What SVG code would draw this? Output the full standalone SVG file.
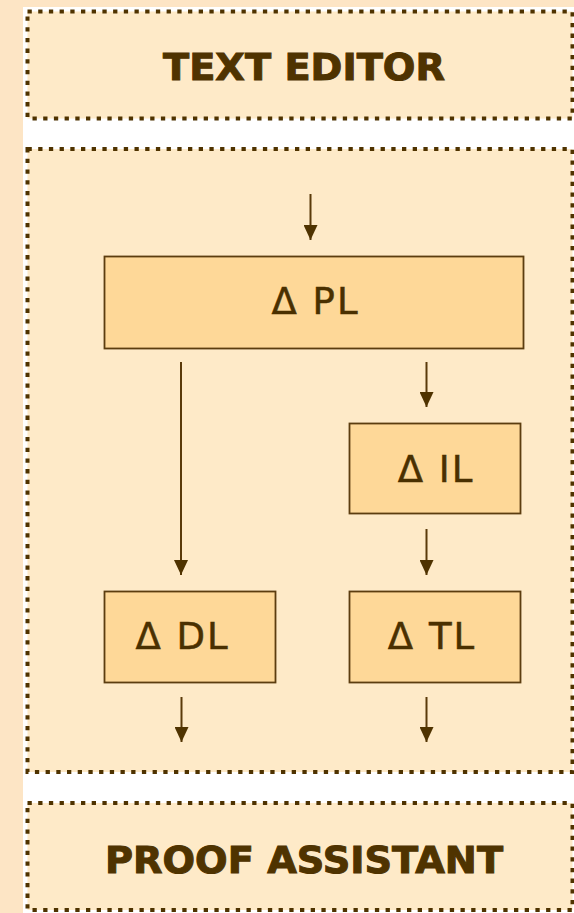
<svg xmlns="http://www.w3.org/2000/svg" width="574" height="913" viewBox="0 0 574 913">
<defs>
<style>
.panel{fill:#feeac8;stroke:#4f3300;stroke-width:4;stroke-dasharray:4.3 6.4}
.title{font-family:"DejaVu Sans",Verdana,sans-serif;font-weight:bold;font-size:37px;fill:#4f3300;stroke:#4f3300;stroke-width:1;text-anchor:middle}
.node{fill:#fed898;stroke:#5c3d0f;stroke-width:1.8}
.lbl{font-family:"DejaVu Sans",Verdana,sans-serif;font-size:37px;fill:#4a3000;stroke:#4a3000;stroke-width:0.5;letter-spacing:2px;text-anchor:middle}
.conn{stroke:#5a3a0a;stroke-width:2;fill:none}
</style>
<marker id="ah" viewBox="0 0 15 14" refX="15" refY="7" markerWidth="15" markerHeight="14" markerUnits="userSpaceOnUse" orient="auto">
<path d="M0,0 L15,7 L0,14 Z" fill="#4f3300"/>
</marker>
</defs>
<rect x="0" y="0" width="574" height="913" fill="#fde5c5"/>
<rect x="23" y="7" width="551" height="906" fill="#ffffff"/>
<g id="text-editor">
<rect class="panel" x="27.5" y="11.5" width="545" height="107"/>
<text class="title" x="304" y="79.5" textLength="282" lengthAdjust="spacingAndGlyphs">TEXT EDITOR</text>
</g>
<g id="main-panel">
<rect class="panel" x="27.5" y="149" width="545" height="623"/>
</g>
<g id="proof-assistant">
<rect class="panel" x="27.5" y="803" width="545" height="107"/>
<text class="title" x="304" y="872.5" textLength="398" lengthAdjust="spacingAndGlyphs">PROOF ASSISTANT</text>
</g>
<g id="pl">
<rect class="node" x="104.5" y="256.5" width="419" height="92"/>
<text class="lbl" x="315.5" y="314">Δ PL</text>
</g>
<g id="il">
<rect class="node" x="349.5" y="423.5" width="171" height="90"/>
<text class="lbl" x="436" y="481.5">Δ IL</text>
</g>
<g id="dl">
<rect class="node" x="104.5" y="591.5" width="171" height="91"/>
<text class="lbl" x="182.5" y="649">Δ DL</text>
</g>
<g id="tl">
<rect class="node" x="349.5" y="591.5" width="171" height="91"/>
<text class="lbl" x="432" y="649">Δ TL</text>
</g>
<g id="connectors">
<line class="conn" x1="310.5" y1="194" x2="310.5" y2="240" marker-end="url(#ah)"/>
<line class="conn" x1="426.5" y1="362" x2="426.5" y2="407" marker-end="url(#ah)"/>
<line class="conn" x1="181" y1="362" x2="181" y2="575" marker-end="url(#ah)"/>
<line class="conn" x1="426.5" y1="529" x2="426.5" y2="575" marker-end="url(#ah)"/>
<line class="conn" x1="181.5" y1="697" x2="181.5" y2="742" marker-end="url(#ah)"/>
<line class="conn" x1="426.5" y1="697" x2="426.5" y2="742" marker-end="url(#ah)"/>
</g>
</svg>
